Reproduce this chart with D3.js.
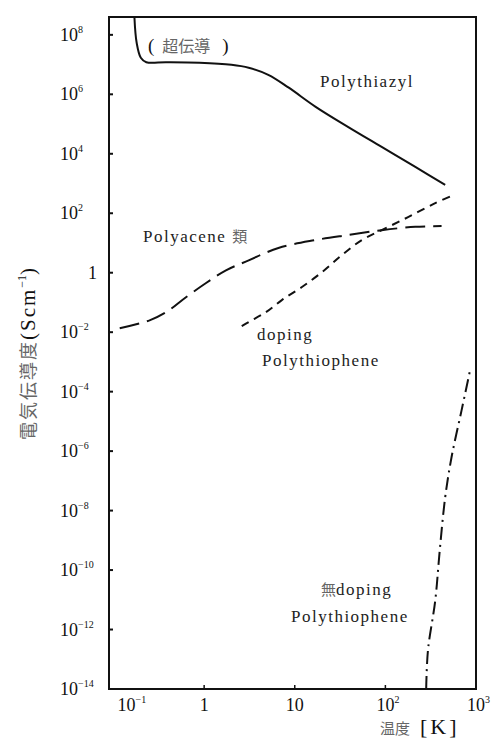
<!DOCTYPE html>
<html>
<head>
<meta charset="utf-8">
<script src="https://cdn.jsdelivr.net/npm/d3@7"></script>
<style>
  body { margin: 0; background: #fff; }
  text { font-family: "Liberation Serif", "DejaVu Serif", serif; fill: #111; }
  .cjk { font-family: "Noto Sans CJK JP", sans-serif; fill: #666; }
  .lbl { font-size: 17px; letter-spacing: 1.5px; fill: #222; }
</style>
</head>
<body>
<div id="chart"></div>
<script>
// temperature (K) and conductivity (S/cm)
var thiazylT   = [0.17, 0.18, 0.20, 0.23, 0.38, 0.89, 2.0, 3.1, 5.1, 8.5, 17, 39, 91, 214, 457];
var thiazylS   = [4e8, 5.4e7, 1.7e7, 1.2e7, 1.2e7, 1.15e7, 9.8e6, 7.8e6, 4.5e6, 1.7e6, 3.8e5, 7.9e4, 1.7e4, 3.6e3, 9e2];
var aceneT     = [0.117, 0.25, 0.38, 0.63, 1.05, 1.74, 3.1, 6.6, 17, 39, 91, 214, 417];
var aceneS     = [1.35e-2, 2.5e-2, 4.7e-2, 0.15, 0.45, 1.2, 2.6, 6.8, 12.6, 18.6, 27, 35, 37];
var dopedT     = [2.6, 3.1, 4.8, 7.2, 12, 20, 33, 55, 91, 178, 355, 562];
var dopedS     = [1.6e-2, 2.2e-2, 4.7e-2, 0.12, 0.33, 1.05, 3.9, 12.6, 27, 74, 219, 407];
var undopedT   = [282, 295, 355, 398, 457, 537, 692, 851];
var undopedS   = [1e-14, 2e-13, 9.5e-12, 4.6e-10, 2.8e-8, 6.2e-7, 2.3e-5, 4.5e-4];

var xTicks = [0.1, 1, 10, 100, 1000];
var xTickBase = ['10', '1', '10', '10', '10'];
var xTickExp  = ['\u22121', '', '', '2', '3'];
var yTicks = [1e-14, 1e-12, 1e-10, 1e-8, 1e-6, 1e-4, 1e-2, 1, 1e2, 1e4, 1e6, 1e8];
var yTickBase = ['10', '10', '10', '10', '10', '10', '10', '1', '10', '10', '10', '10'];
var yTickExp  = ['\u221214', '\u221212', '\u221210', '\u22128', '\u22126', '\u22124', '\u22122', '', '2', '4', '6', '8'];

var width = 502, height = 740;
var plotL = 109, plotR = 476, plotT = 17, plotB = 689;

var svg = d3.select('#chart').append('svg')
    .attr('width', width).attr('height', height);

var x = d3.scaleLog().domain([Math.pow(10, -1.05), 1000]).range([plotL, plotR]);
var y = d3.scaleLog().domain([1e-14, Math.pow(10, 8.6)]).range([plotB, plotT]);

// frame
svg.append('rect')
    .attr('x', plotL).attr('y', plotT)
    .attr('width', plotR - plotL).attr('height', plotB - plotT)
    .attr('fill', 'none').attr('stroke', '#111').attr('stroke-width', 2);

// inward tick marks
svg.selectAll('.ytick').data(yTicks).enter().append('line')
    .attr('class', 'ytick')
    .attr('x1', plotL).attr('x2', plotL + 4)
    .attr('y1', function(d) { return y(d); }).attr('y2', function(d) { return y(d); })
    .attr('stroke', '#111').attr('stroke-width', 2);

svg.selectAll('.xtick').data(xTicks.slice(1, 4)).enter().append('line')
    .attr('class', 'xtick')
    .attr('x1', function(d) { return x(d); }).attr('x2', function(d) { return x(d); })
    .attr('y1', plotB).attr('y2', plotB - 4)
    .attr('stroke', '#111').attr('stroke-width', 1.5);

// y tick labels
var yl = svg.selectAll('.ylab').data(yTicks).enter().append('text')
    .attr('class', 'ylab')
    .attr('x', function(d, i) { return yTickExp[i] ? 60 : 97; })
    .attr('y', function(d) { return y(d) + 6; })
    .attr('text-anchor', function(d, i) { return yTickExp[i] ? 'start' : 'end'; })
    .style('font-size', '18px');
yl.append('tspan').text(function(d, i) { return yTickBase[i]; });
yl.append('tspan').attr('dy', -8).style('font-size', '10px')
    .text(function(d, i) { return yTickExp[i]; });

// x tick labels
var xl = svg.selectAll('.xlab').data(xTicks).enter().append('text')
    .attr('class', 'xlab')
    .attr('x', function(d, i) { return i === 0 ? x(d) + 4 : x(d) - (xTickBase[i].length * 4.5); })
    .attr('y', 711)
    .style('font-size', '18px');
xl.append('tspan').text(function(d, i) { return xTickBase[i]; });
xl.append('tspan').attr('dy', -8).style('font-size', '10px')
    .text(function(d, i) { return xTickExp[i]; });

// curves
var line = d3.line()
    .x(function(d) { return x(d[0]); })
    .y(function(d) { return y(d[1]); })
    .curve(d3.curveCatmullRom.alpha(0.5));

function drawCurve(ts, ss, dash) {
    svg.append('path')
        .datum(d3.zip(ts, ss))
        .attr('d', line)
        .attr('fill', 'none')
        .attr('stroke', '#111')
        .attr('stroke-width', 2)
        .attr('stroke-dasharray', dash);
}

drawCurve(thiazylT, thiazylS, null);
drawCurve(aceneT, aceneS, '20,8');
drawCurve(dopedT, dopedS, '8,6');
drawCurve(undopedT, undopedS, '13,5,2,5');

// curve labels
var sup = svg.append('text').attr('x', 148).attr('y', 52).style('font-size', '19px');
sup.append('tspan').text('(');
sup.append('tspan').attr('class', 'cjk').attr('dx', 8).style('font-size', '16px').text('超伝導');
sup.append('tspan').attr('dx', 12).text(')');

svg.append('text').attr('class', 'lbl').attr('x', 320).attr('y', 87).text('Polythiazyl');

var ac = svg.append('text').attr('class', 'lbl').attr('x', 143).attr('y', 242);
ac.append('tspan').text('Polyacene');
ac.append('tspan').attr('class', 'cjk').attr('dx', 6).style('font-size', '15px').text('類');

svg.append('text').attr('class', 'lbl').attr('x', 257).attr('y', 340).text('doping');
svg.append('text').attr('class', 'lbl').attr('x', 262).attr('y', 366).text('Polythiophene');

var ud = svg.append('text').attr('class', 'lbl').attr('x', 321).attr('y', 595);
ud.append('tspan').attr('class', 'cjk').style('font-size', '15px').style('letter-spacing', '0px').text('無');
ud.append('tspan').text('doping');
svg.append('text').attr('class', 'lbl').attr('x', 291).attr('y', 622).text('Polythiophene');

// axis titles
var xt = svg.append('text').attr('x', 380).attr('y', 734).style('font-size', '22px');
xt.append('tspan').attr('class', 'cjk').style('font-size', '15px').text('温度');
xt.append('tspan').attr('dx', 10).style('letter-spacing', '3px').text('[K]');

var yt = svg.append('text')
    .attr('transform', 'translate(35,440) rotate(-90)')
    .style('font-size', '21px');
yt.append('tspan').attr('class', 'cjk').style('font-size', '18px').style('letter-spacing', '2px').text('電気伝導度');
yt.append('tspan').style('letter-spacing', '2px').text('(Scm');
yt.append('tspan').attr('dy', -9).style('font-size', '12px').text('\u22121');
yt.append('tspan').attr('dy', 9).text(')');
</script>
</body>
</html>
